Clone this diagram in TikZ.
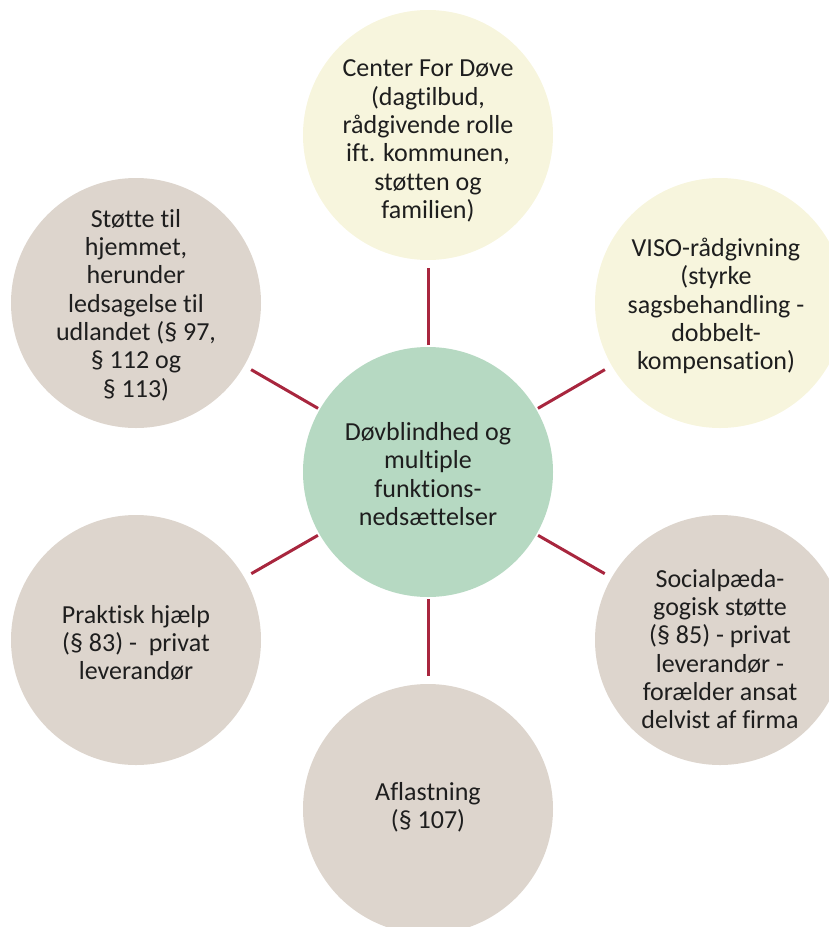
\documentclass[tikz,border=0pt]{standalone}
\usepackage{fontspec}
\setmainfont{Carlito}[Ligatures=NoCommon]
\definecolor{conncol}{RGB}{168,38,62}
\definecolor{creamcol}{RGB}{247,245,221}
\definecolor{greycol}{RGB}{221,213,205}
\definecolor{greencol}{RGB}{182,217,194}
\definecolor{txtcol}{RGB}{30,30,30}
\begin{document}
\begin{tikzpicture}[x=1pt,y=-1pt,
  bubble/.style={circle,minimum size=250pt,inner sep=0pt,outer sep=0pt,draw=none},
  label/.style={align=center,text=txtcol,font=\fontsize{26}{28.3}\selectfont,inner sep=0pt},
  conn/.style={draw=conncol,line width=3pt,shorten <=2pt,shorten >=8pt}]
\useasboundingbox (0,0) rectangle (829,927);
\node[bubble,fill=greencol] (hub) at (428,472) {};
\node[bubble,fill=creamcol] (cfd) at (428,135) {};
\node[bubble,fill=creamcol] (viso) at (720,303) {};
\node[bubble,fill=greycol] (soc) at (720,640) {};
\node[bubble,fill=greycol] (afl) at (428,809) {};
\node[bubble,fill=greycol] (prak) at (136,640) {};
\node[bubble,fill=greycol] (stot) at (136,303) {};
\draw[conn] (hub) -- (cfd);
\draw[conn] (hub) -- (viso);
\draw[conn] (hub) -- (soc);
\draw[conn] (hub) -- (afl);
\draw[conn] (hub) -- (prak);
\draw[conn] (hub) -- (stot);
\node[label] (thub) at (428,474) {Døvblindhed og\\multiple\\funktions-\\nedsættelser};
\node[label] (tcfd) at (428,141) {Center For Døve\\(dagtilbud,\\rådgivende rolle\\ift. kommunen,\\støtten og\\familien)};
\node[label] (tviso) at (716,306) {VISO-rådgivning\\(styrke\\sagsbehandling -\\dobbelt-\\kompensation)};
\node[label] (tsoc) at (720,649) {Socialpæda-\\gogisk støtte\\(§ 85) - privat\\leverandør -\\forælder ansat\\delvist af firma};
\node[label] (tafl) at (428,807) {Aflastning\\(§ 107)};
\node[label] (tprak) at (136,643) {Praktisk hjælp\\(§ 83) -\ \ privat\\leverandør};
\node[label] (tstot) at (136,305) {Støtte til\\hjemmet,\\herunder\\ledsagelse til\\udlandet (§ 97,\\§ 112 og\\§ 113)};
\end{tikzpicture}
\end{document}
